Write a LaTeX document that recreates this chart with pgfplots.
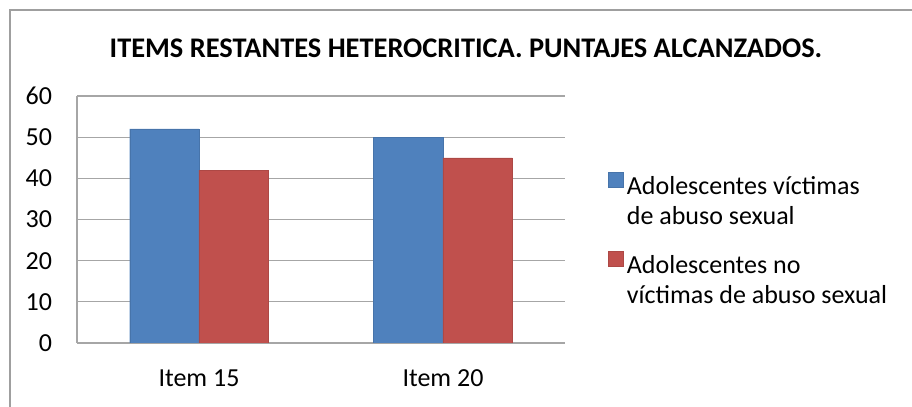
\documentclass[border=0pt]{standalone}
\usepackage{pgfplots}
\pgfplotsset{compat=1.18}
\usepackage{fontspec}
\setmainfont{Carlito}
\definecolor{exblue}{HTML}{4F81BD}
\definecolor{exred}{HTML}{C0504D}
\begin{document}
\begin{tikzpicture}
% page = 912x407 px, 1px = 0.5pt; axis south west at px (77,343)
\useasboundingbox (-38.5pt,-32pt) rectangle (417.5pt,171.5pt);
\draw[line width=1pt, draw=gray!75] (430pt,166.5pt) -- (-33.5pt,166.5pt) -- (-33.5pt,-40pt);
\begin{axis}[
    at={(0,0)}, anchor=south west,
    scale only axis,
    width=244pt, height=123.5pt,
    font=\fontsize{13}{15}\selectfont,
    /pgf/number format/assume math mode=true,
    ybar=0pt, bar width=0.284,
    xmin=-0.5, xmax=1.5,
    ymin=0, ymax=60, ytick={0,10,...,60},
    xtick=data, xticklabels={Item 15, Item 20},
    axis x line*=bottom, axis y line*=left,
    axis line style={draw=gray!70, line width=0.6pt},
    ymajorgrids, grid style={draw=gray!70, line width=0.6pt},
    major tick length=0pt,
    yticklabel style={xshift=-9pt},
    xticklabel style={yshift=-10pt},
    title={\textbf{ITEMS RESTANTES HETEROCRITICA. PUNTAJES ALCANZADOS.}},
    every axis title shift=0pt,
    title style={at={(0.797,1.194)}, anchor=center, font=\fontsize{14.2}{16}\selectfont},
    legend cell align=left,
    legend style={at={(1.074,0.448)}, anchor=west, draw=none, fill=none,
        row sep=16pt,
        font=\fontsize{13}{15}\selectfont},
    legend image code/.code={
        \path[draw=none, fill=none] (0pt,-11.5pt) rectangle (7.5pt,11.5pt);
        \fill[#1] (0pt,3pt) rectangle (7.5pt,10.5pt);},
]
\addplot[fill=exblue, draw=exblue!90!black, line width=0.2pt] coordinates {(0,52) (1,50)};
\addlegendentry{\begin{tabular}{@{}l@{}}Adolescentes víctimas\\de abuso sexual\end{tabular}}
\addplot[fill=exred, draw=exred!90!black, line width=0.2pt] coordinates {(0,42) (1,45)};
\addlegendentry{\begin{tabular}{@{}l@{}}Adolescentes no\\víctimas de abuso sexual\end{tabular}}
\end{axis}
\end{tikzpicture}
\end{document}
